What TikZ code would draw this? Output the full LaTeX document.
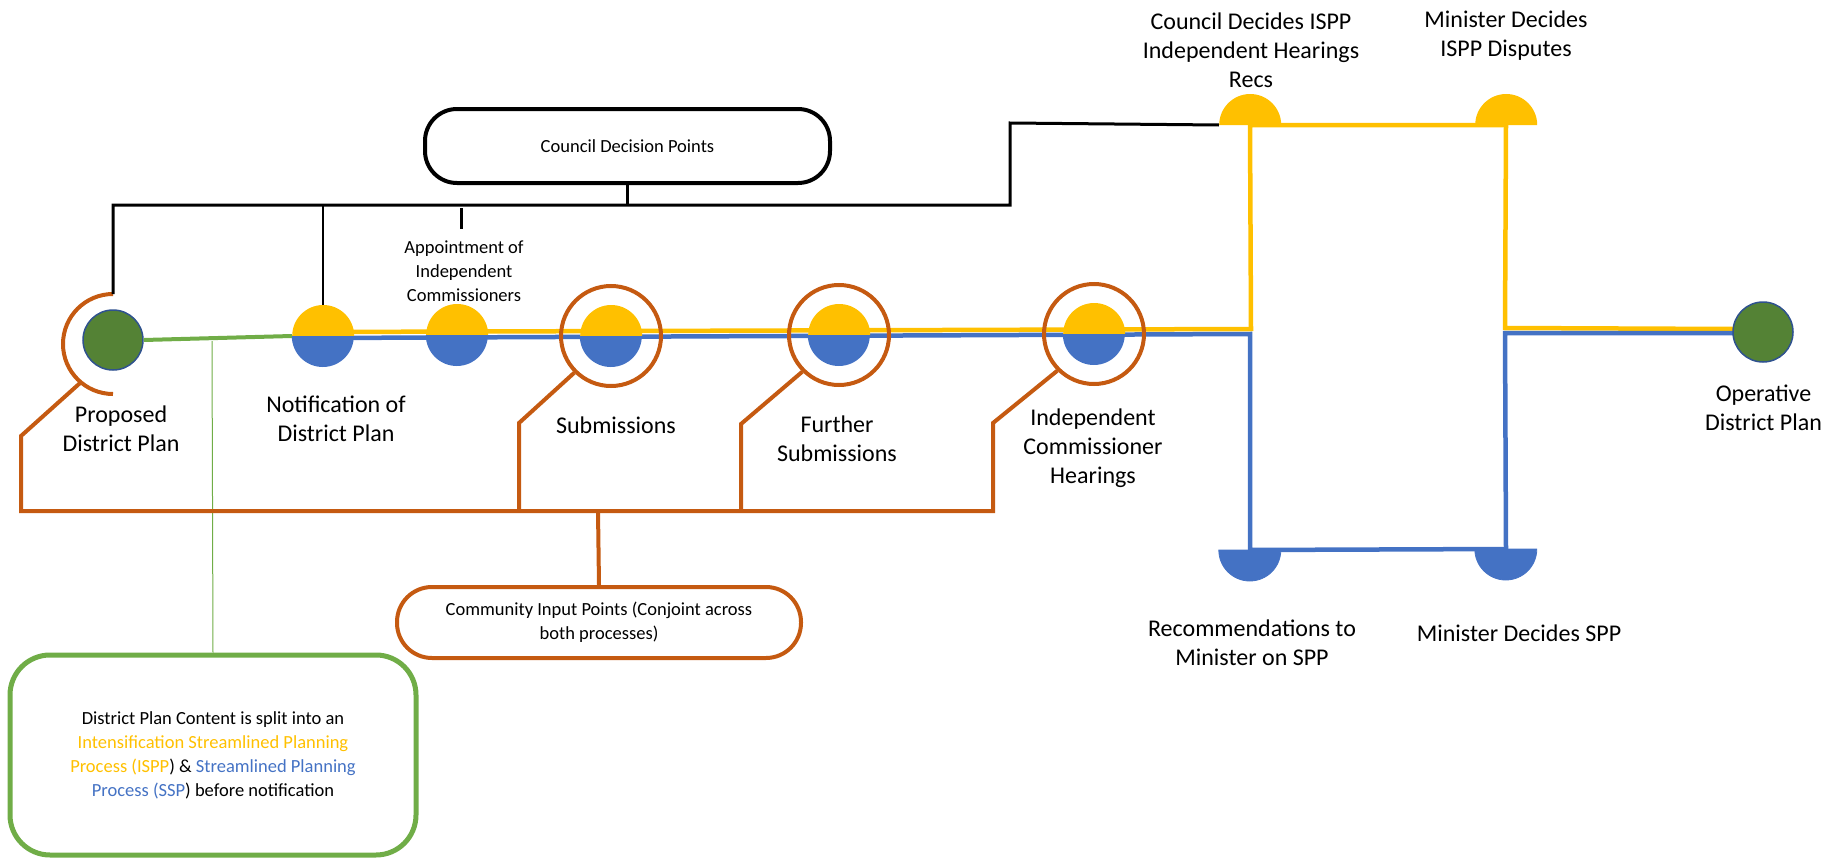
\documentclass[tikz,border=0pt]{standalone}
\usepackage{fontspec}
\setmainfont{Carlito}
\usetikzlibrary{calc}
\definecolor{ylw}{HTML}{FFC000}
\definecolor{blu}{HTML}{4472C4}
\definecolor{org}{HTML}{C55A11}
\definecolor{grn}{HTML}{70AD47}
\definecolor{dgrn}{HTML}{548235}
\definecolor{dblu}{HTML}{2F528F}
\begin{document}
\begin{tikzpicture}[x=1pt,y=-1pt,
 lbl/.style={align=center,inner sep=0pt,font=\fontsize{24}{29}\selectfont},
 slbl/.style={align=center,inner sep=0pt,font=\fontsize{18.5}{24}\selectfont},
 dot/.style={circle,inner sep=0pt,minimum size=62pt},
 gdot/.style={circle,inner sep=0pt,minimum size=60pt,fill=dgrn,draw=dblu,line width=1.5pt},
 ring/.style={circle,inner sep=0pt,minimum size=100pt,draw=org,line width=4pt},
 yl/.style={draw=ylw,line width=4.5pt},
 bl/.style={draw=blu,line width=4.5pt},
 ol/.style={draw=org,line width=4pt},
 kl/.style={draw=black,line width=3pt},
]
\useasboundingbox (0,0) rectangle (1840,859);

% ---- node positions
\node[dot] (notif) at (323,336) {};
\node[dot] (appt) at (457,335) {};
\node[dot] (subm) at (611,336) {};
\node[dot] (furt) at (839,335) {};
\node[dot] (inde) at (1094,334) {};
\node[dot] (cdi) at (1250,125) {};
\node[dot] (mdi) at (1506,125) {};
\node[dot] (recs) at (1250,550) {};
\node[dot] (mds) at (1506,549) {};

% ---- boxes
\node[draw,line width=4pt,rounded corners=32pt,minimum width=405pt,minimum height=74pt,slbl] (cdp) at (627.5,146) {Council Decision Points};
\node[draw=org,line width=4pt,rounded corners=35pt,minimum width=404pt,minimum height=71pt,slbl] (cip) at (599,622.5) {Community Input Points (Conjoint across\\both processes)};
\node[draw=grn,line width=5pt,rounded corners=40pt,minimum width=406pt,minimum height=200pt,slbl] (split) at (213,755) {District Plan Content is split into an\\
{\color{ylw}Intensification Streamlined Planning}\\
{\color{ylw}Process (ISPP}) \& {\color{blu}Streamlined Planning}\\
{\color{blu}Process (SSP}) before notification};

% ---- coordinates
\coordinate (yc1) at (1251,329);
\coordinate (bc1) at (1250,334);
\coordinate (yc2) at (1505,328);
\coordinate (bc2) at (1505,333);
\coordinate (parctop) at (113,294);
\coordinate (parc) at ($(113,344)+(230:50pt)$);
\coordinate (kL) at (113,205);
\coordinate (kR) at (1010,205);
\coordinate (kT) at (1010,123);
\coordinate (astub) at (461,208);
\coordinate (astubend) at (461,229);
\coordinate (gsplit) at (212,341);
\coordinate (o1) at (21,436);
\coordinate (o2) at (21,511);
\coordinate (o3) at (993,511);
\coordinate (o4) at (993,423);
\coordinate (s1) at (519,423);
\coordinate (s2) at (519,511);
\coordinate (f1) at (741,424);
\coordinate (f2) at (741,511);
\coordinate (cj) at (598,511);

% ---- process lines
\draw[draw=grn,line width=1pt] (gsplit) -- (split.north);
\draw[yl] ([yshift=4pt]notif.center) -- (yc1) -- (cdi.center) -- (mdi.center) -- (yc2) -- (1733,329);
\draw[bl] ([yshift=-2pt]notif.center) -- (bc1) -- (recs.center) -- (mds.center) -- (bc2) -- (1733,333);

% ---- half discs
\foreach \n in {notif,appt,subm,furt,inde}{
  \fill[ylw] (\n.east) arc[start angle=0,end angle=180,radius=31pt] -- cycle;
  \fill[blu] (\n.west) arc[start angle=180,end angle=360,radius=31pt] -- cycle;
}
\foreach \n in {cdi,mdi}{
  \fill[ylw] (\n.east) arc[start angle=0,end angle=180,radius=31pt] -- cycle;
}
\foreach \n in {recs,mds}{
  \draw[blu,fill=blu,line width=0.8pt] (\n.west) arc[start angle=180,end angle=360,radius=31pt] -- cycle;
}

% ---- green end dots
\node[gdot] (prop) at (113,340) {};
\node[gdot] (oper) at (1763,332) {};
\draw[draw=grn,line width=4pt] (prop.east) -- (notif.west);

% ---- orange rings & connectors
\node[ring] (subr) at (611,336) {};
\node[ring] (furr) at (839,335) {};
\node[ring] (indr) at (1094,334) {};
\draw[ol] (parctop) arc[start angle=90,end angle=270,radius=50pt];
\draw[ol] (parc) -- (o1) -- (o2) -- (o3) -- (o4) -- (indr.south west);
\draw[ol] (subr.south west) -- (s1) -- (s2);
\draw[ol] (furr.south west) -- (f1) -- (f2);
\draw[ol] (cj) -- (cip.north);

% ---- black council connectors
\draw[kl] (parctop) -- (kL) -- (kR) -- (kT) -- (cdi.west);
\draw[kl] (cdp.south) -- (cdp.south |- kL);
\draw[black,line width=2pt] (notif.north) -- (notif.north |- kL);
\draw[kl] (astub) -- (astubend);

% ---- labels
\node[slbl] (apptlbl) at (464,271) {Appointment of\\Independent\\Commissioners};
\node[lbl] at (121,429) {Proposed\\District Plan};
\node[lbl] at (336,418.5) {Notification of\\District Plan};
\node[lbl] at (616,425) {Submissions};
\node[lbl] at (837,439) {Further\\Submissions};
\node[lbl] at (1093,448) {Independent\\Commissioner\\Hearings};
\node[lbl] at (1251,50) {Council Decides ISPP\\Independent Hearings\\Recs};
\node[lbl] at (1506,35.5) {Minister Decides\\ISPP Disputes};
\node[lbl] at (1252,643) {Recommendations to\\Minister on SPP};
\node[lbl] at (1519,633) {Minister Decides SPP};
\node[lbl] at (1763.5,408) {Operative\\District Plan};
\end{tikzpicture}
\end{document}
